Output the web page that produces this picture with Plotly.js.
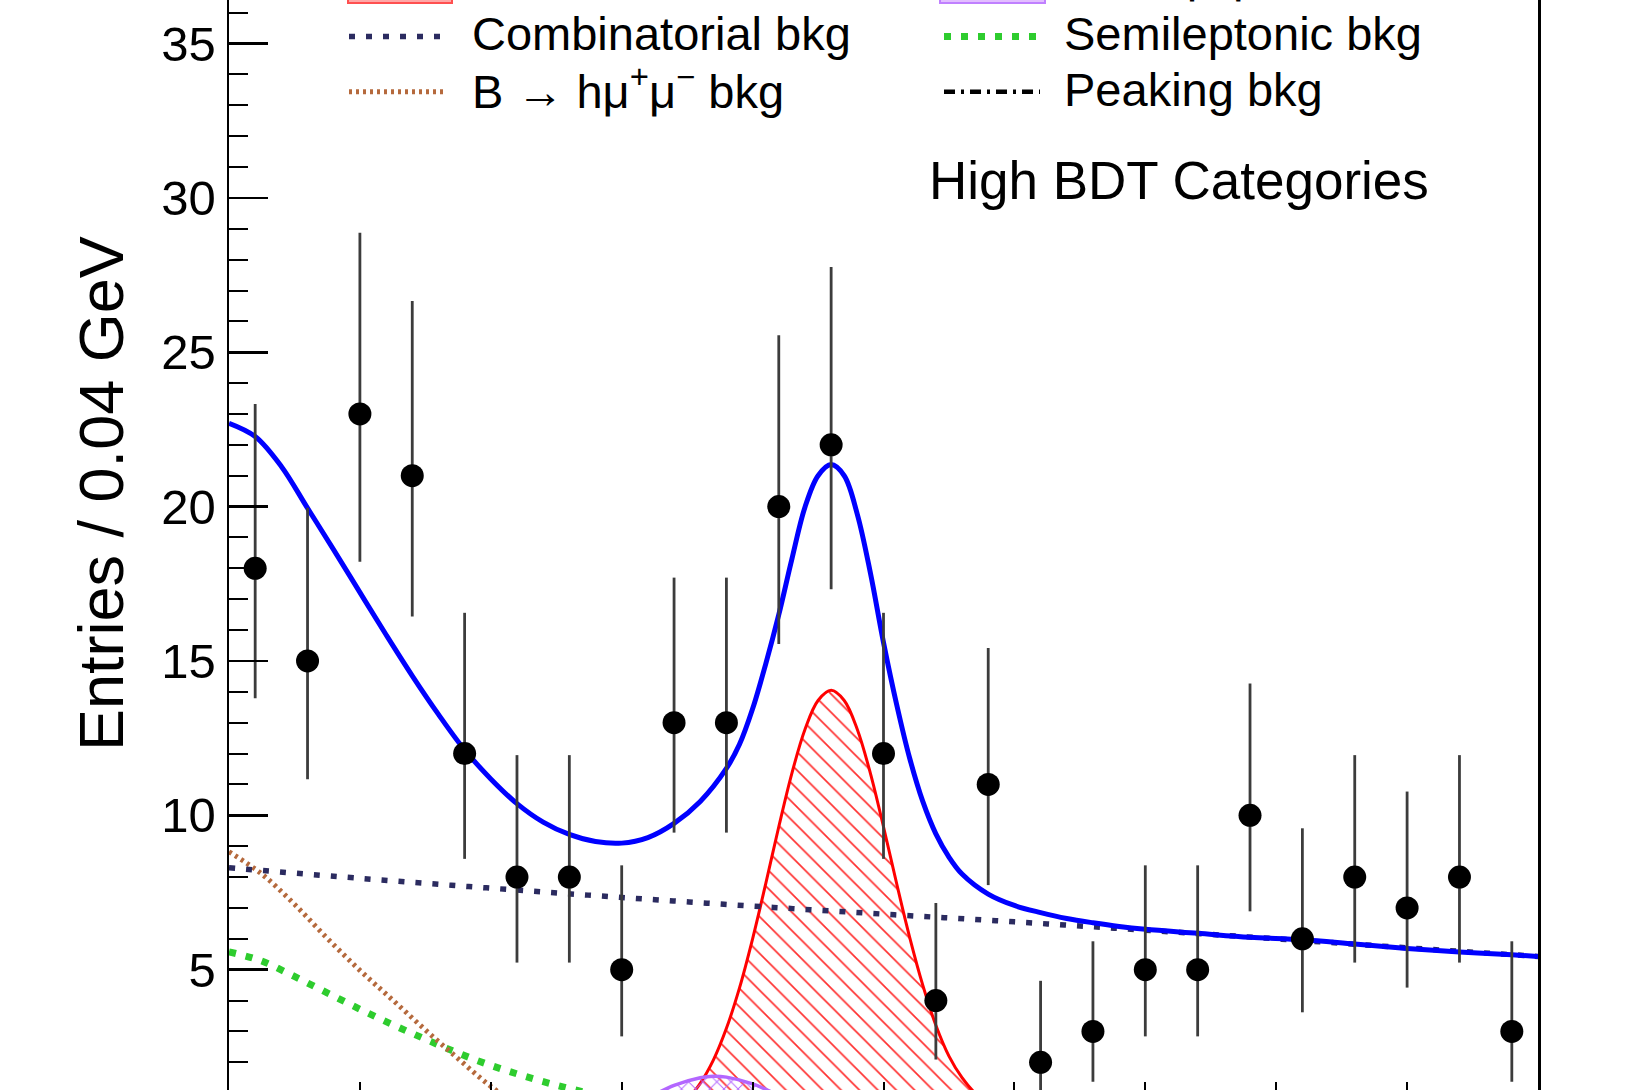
<!DOCTYPE html>
<html>
<head>
<meta charset="utf-8">
<script src="https://cdn.plot.ly/plotly-3.0.1.min.js"></script>
<style>
  html, body { margin: 0; padding: 0; background: #ffffff; overflow: hidden; }
  #chart { width: 1635px; height: 1090px; }
</style>
</head>
<body>
<div id="chart"></div>
<script>
// ---- data ----
const binCenters = [4.92, 4.96, 5.00, 5.04, 5.08, 5.12, 5.16, 5.20, 5.24, 5.28,
                    5.32, 5.36, 5.40, 5.44, 5.48, 5.52, 5.56, 5.60, 5.64, 5.68,
                    5.72, 5.76, 5.80, 5.84, 5.88];
const entries   = [18, 15, 23, 21, 12, 8, 8, 5, 13, 13,
                   20, 22, 12, 4, 11, 2, 3, 5, 5, 10,
                   6, 8, 7, 8, 3];
const errUp     = [5.32, 4.96, 5.87, 5.66, 4.56, 3.95, 3.95, 3.38, 4.70, 4.70,
                   5.55, 5.76, 4.56, 3.16, 4.42, 2.64, 2.92, 3.38, 3.38, 4.27,
                   3.58, 3.95, 3.77, 3.95, 2.92];
const errDown   = [4.21, 3.83, 4.79, 4.56, 3.41, 2.77, 2.77, 2.16, 3.56, 3.56,
                   4.45, 4.68, 3.41, 1.91, 3.26, 1.29, 1.63, 2.16, 2.16, 3.11,
                   2.38, 2.77, 2.58, 2.77, 1.63];

// total fit (blue)
const totalX = [4.90, 4.92, 4.94, 4.96, 4.98, 5.00, 5.02, 5.04, 5.06, 5.08,
                5.10, 5.12, 5.14, 5.16, 5.18, 5.20, 5.22, 5.24, 5.26, 5.28,
                5.29, 5.30, 5.31, 5.32, 5.33, 5.34, 5.35, 5.36, 5.37, 5.38,
                5.39, 5.40, 5.41, 5.42, 5.43, 5.44, 5.45, 5.46, 5.48, 5.50,
                5.52, 5.54, 5.56, 5.58, 5.60, 5.64, 5.68, 5.72, 5.76, 5.80,
                5.84, 5.88, 5.90];
const totalY = [22.70, 22.27, 21.30, 19.95, 18.60, 17.22, 15.85, 14.52, 13.27, 12.12,
                11.18, 10.38, 9.78, 9.38, 9.15, 9.10, 9.28, 9.74, 10.45, 11.52,
                12.30, 13.45, 14.90, 16.50, 18.30, 19.98, 21.00, 21.36, 21.00, 19.75,
                17.85, 15.60, 13.60, 11.85, 10.45, 9.40, 8.65, 8.10, 7.45, 7.08,
                6.85, 6.66, 6.52, 6.40, 6.31, 6.18, 6.05, 5.97, 5.83, 5.69,
                5.57, 5.48, 5.43];

// combinatorial background (navy dotted)
const combX = [4.9, 5.0, 5.1, 5.2, 5.3, 5.4, 5.5, 5.6, 5.7, 5.8, 5.9];
const combY = [8.30, 7.96, 7.64, 7.34, 7.06, 6.80, 6.55, 6.28, 6.00, 5.71, 5.43];

// B -> h mu mu background (brown dotted)
const hmumuX = [4.900, 4.925, 4.950, 4.975, 5.000, 5.025, 5.050, 5.075, 5.100, 5.125, 5.150];
const hmumuY = [8.82, 8.10, 7.12, 6.02, 4.98, 4.02, 3.05, 2.12, 1.22, 0.50, 0.15];

// semileptonic background (green dotted)
const semiX = [4.900, 4.925, 4.950, 4.975, 5.000, 5.025, 5.050, 5.075, 5.100, 5.125,
               5.150, 5.175, 5.200, 5.225, 5.250];
const semiY = [5.58, 5.28, 4.78, 4.25, 3.72, 3.22, 2.75, 2.30, 1.90, 1.56,
               1.26, 1.00, 0.78, 0.60, 0.45];

// Bs signal (red hatched)
const bsX = [5.24, 5.25, 5.26, 5.27, 5.28, 5.29, 5.30, 5.31, 5.32, 5.33, 5.34, 5.35, 5.36,
             5.37, 5.38, 5.39, 5.40, 5.41, 5.42, 5.43, 5.44, 5.45, 5.46, 5.47, 5.48];
const bsY = [0.47, 0.80, 1.32, 2.07, 3.10, 4.41, 6.00, 7.78, 9.63, 11.36, 12.78, 13.72, 14.05,
             13.72, 12.78, 11.36, 9.63, 7.80, 6.05, 4.50, 3.20, 2.20, 1.50, 1.00, 0.65];

// B0 signal (purple cross-hatched)
const b0X = [5.18, 5.20, 5.22, 5.24, 5.26, 5.27, 5.28, 5.30, 5.32, 5.34, 5.36];
const b0Y = [0.20, 0.45, 0.85, 1.25, 1.50, 1.55, 1.52, 1.30, 0.93, 0.55, 0.26];

// legend / labels
const legendLeft  = ['B<sub>s</sub><sup>0</sup> → μ<sup>+</sup>μ<sup>−</sup>',
                     'Combinatorial bkg',
                     'B → hμ<sup>+</sup>μ<sup>−</sup> bkg'];
const legendRight = ['B<sup>0</sup> → μ<sup>+</sup>μ<sup>−</sup>',
                     'Semileptonic bkg',
                     'Peaking bkg'];
const categoryLabel = 'High BDT Categories';
const yTitle = 'Entries / 0.04 GeV';

// ---- layout geometry (pixels of the 1635x1090 page) ----
const W = 1635, H = 1090;
const plotL = 229, plotR = 1538;
const px = v => (v - plotL) / (plotR - plotL);   // page x -> paper x
const py = v => 1 - v / H;                        // page y -> paper y
const FONT = 'Liberation Sans, Arial, Helvetica, sans-serif';

const NAVY = '#2b2b60', GREEN = '#2ecc2e', BROWN = '#b5693c';
const traces = [
  { x: bsX, y: bsY, type: 'scatter', mode: 'lines', fill: 'tozeroy',
    fillcolor: 'rgba(0,0,0,0)',
    fillpattern: { shape: '\\', fgcolor: '#ff3030', size: 13, solidity: 0.13 },
    line: { color: '#ff0000', width: 3, shape: 'spline' }, hoverinfo: 'skip' },
  { x: b0X, y: b0Y, type: 'scatter', mode: 'lines', fill: 'tozeroy',
    fillcolor: 'rgba(0,0,0,0)',
    fillpattern: { shape: 'x', fgcolor: '#b366ff', size: 10, solidity: 0.18 },
    line: { color: '#b366ff', width: 3.5, shape: 'spline' }, hoverinfo: 'skip' },
  { x: semiX, y: semiY, type: 'scatter', mode: 'lines',
    line: { color: GREEN, width: 7, dash: '7px,10px', shape: 'spline' } },
  { x: hmumuX, y: hmumuY, type: 'scatter', mode: 'lines',
    line: { color: BROWN, width: 5, dash: '3px,4px', shape: 'spline' } },
  { x: combX, y: combY, type: 'scatter', mode: 'lines',
    line: { color: NAVY, width: 5.5, dash: '6px,11px', shape: 'spline' } },
  { x: totalX, y: totalY, type: 'scatter', mode: 'lines',
    line: { color: '#0000ff', width: 5, shape: 'spline' } },
  { x: binCenters, y: entries, type: 'scatter', mode: 'markers',
    marker: { color: '#000000', size: 23 },
    error_y: { type: 'data', symmetric: false, array: errUp, arrayminus: errDown,
               color: '#3c3c3c', thickness: 2.8, width: 0 } }
];

const rowsL = [py(-27), py(33.5), py(87.5)];
const rowsR = [py(-27), py(34), py(89.5)];
const sampleRows = [py(36.5), py(91.8)];
const annotations = [];
legendLeft.forEach((t, i) => annotations.push({
  text: t, xref: 'paper', yref: 'paper', x: px(470), y: rowsL[i],
  xanchor: 'left', yanchor: 'middle', showarrow: false,
  font: { family: FONT, size: 47, color: '#000' } }));
legendRight.forEach((t, i) => annotations.push({
  text: t, xref: 'paper', yref: 'paper', x: px(1062), y: rowsR[i],
  xanchor: 'left', yanchor: 'middle', showarrow: false,
  font: { family: FONT, size: 47, color: '#000' } }));
annotations.push({
  text: categoryLabel, xref: 'paper', yref: 'paper', x: px(927), y: py(180),
  xanchor: 'left', yanchor: 'middle', showarrow: false,
  font: { family: FONT, size: 53, color: '#000' } });
annotations.push({
  text: yTitle, xref: 'paper', yref: 'paper', x: px(101), y: py(494),
  xanchor: 'center', yanchor: 'middle', textangle: -90, showarrow: false,
  font: { family: FONT, size: 63, color: '#000' } });

const shapes = [
  // hatched boxes of the first legend row (mostly above the page)
  { type: 'rect', xref: 'paper', yref: 'paper', x0: px(348), x1: px(452), y0: py(3), y1: py(-40),
    fillcolor: 'rgba(255,60,60,0.45)', line: { color: '#ff5050', width: 2 } },
  { type: 'rect', xref: 'paper', yref: 'paper', x0: px(940), x1: px(1045), y0: py(3), y1: py(-40),
    fillcolor: 'rgba(190,110,255,0.45)', line: { color: '#c080ff', width: 2 } },
  // line samples
  { type: 'line', xref: 'paper', yref: 'paper', x0: px(349), x1: px(446), y0: sampleRows[0], y1: sampleRows[0],
    line: { color: NAVY, width: 5.5, dash: '6px,11px' } },
  { type: 'line', xref: 'paper', yref: 'paper', x0: px(944), x1: px(1040), y0: sampleRows[0], y1: sampleRows[0],
    line: { color: GREEN, width: 7, dash: '7px,10px' } },
  { type: 'line', xref: 'paper', yref: 'paper', x0: px(349), x1: px(446), y0: sampleRows[1], y1: sampleRows[1],
    line: { color: BROWN, width: 5, dash: '3px,4px' } },
  { type: 'line', xref: 'paper', yref: 'paper', x0: px(944), x1: px(1040), y0: sampleRows[1], y1: sampleRows[1],
    line: { color: '#000000', width: 4.5, dash: '11px,6px,3px,6px' } }
];

const layout = {
  width: W, height: H,
  margin: { l: plotL, r: W - plotR, t: 0, b: 0, autoexpand: false, pad: 0 },
  paper_bgcolor: '#ffffff', plot_bgcolor: '#ffffff',
  showlegend: false,
  font: { family: FONT, color: '#000' },
  xaxis: {
    range: [4.9, 5.9], showgrid: false, zeroline: false, showline: false,
    ticks: 'inside', tick0: 5.0, dtick: 0.1, ticklen: 8, tickwidth: 2, tickcolor: '#000',
    showticklabels: false, fixedrange: true
  },
  yaxis: {
    range: [1.103, 36.41], showgrid: false, zeroline: false,
    showline: true, linewidth: 2.5, linecolor: '#000', mirror: true,
    ticks: 'inside', tick0: 0, dtick: 5, ticklen: 39, tickwidth: 2.5, tickcolor: '#000',
    minor: { ticks: 'inside', dtick: 1, ticklen: 19, tickwidth: 2, tickcolor: '#000' },
    tickfont: { family: FONT, size: 49, color: '#000' },
    ticklabelstandoff: 1,
    fixedrange: true
  },
  shapes: shapes,
  annotations: annotations
};

Plotly.newPlot('chart', traces, layout, { staticPlot: true, displayModeBar: false });
</script>
</body>
</html>
